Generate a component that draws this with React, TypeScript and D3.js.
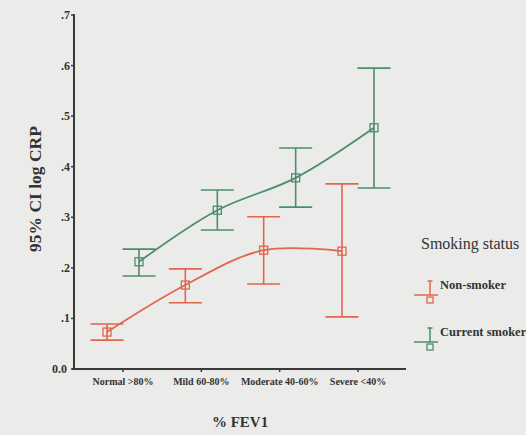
import React from "react";
import * as d3 from "d3";

const categories = ["Normal >80%", "Mild 60-80%", "Moderate 40-60%", "Severe <40%"];
const yTicks = [0, 0.1, 0.2, 0.3, 0.4, 0.5, 0.6, 0.7];
const yTickLabels = ["0.0", ".1", ".2", ".3", ".4", ".5", ".6", ".7"];

const nonSmokerMean = [0.073, 0.166, 0.235, 0.233];
const nonSmokerLow = [0.057, 0.131, 0.168, 0.103];
const nonSmokerHigh = [0.089, 0.198, 0.301, 0.366];

const smokerMean = [0.212, 0.314, 0.378, 0.477];
const smokerLow = [0.184, 0.275, 0.32, 0.358];
const smokerHigh = [0.237, 0.354, 0.437, 0.595];

const seriesNames = ["Non-smoker", "Current smoker"];
const seriesColors = ["#e2654d", "#4d8b72"];

const W = 526;
const H = 435;
const serif = "'Liberation Serif', 'DejaVu Serif', serif";

export default function App() {
  const x = d3.scalePoint<string>().domain(categories).range([123, 358]);
  const y = d3.scaleLinear().domain([0, 0.7]).range([369, 15]);
  const dodge = 16;
  const cap = 16.5;
  const sq = 8;

  const series = [
    { name: seriesNames[0], color: seriesColors[0], mean: nonSmokerMean, lo: nonSmokerLow, hi: nonSmokerHigh, off: -dodge },
    { name: seriesNames[1], color: seriesColors[1], mean: smokerMean, lo: smokerLow, hi: smokerHigh, off: dodge },
  ];

  const line = d3
    .line<[number, number]>()
    .x((d) => d[0])
    .y((d) => d[1])
    .curve(d3.curveCatmullRom.alpha(0.5));

  return (
    <svg
      width={W}
      height={H}
      style={{ position: "absolute", left: 0, top: 0, background: "#ebebea" }}
    >
      <rect x={0} y={0} width={W} height={H} fill="#ebebea" />

      {/* y axis */}
      <line x1={74} x2={74} y1={y(0.7) - 1} y2={y(0) + 1} stroke="#3a3a3a" strokeWidth={2} />
      {yTicks.map((t, i) => (
        <g key={t}>
          <line x1={71} x2={74} y1={y(t)} y2={y(t)} stroke="#3a3a3a" strokeWidth={1.5} />
          <text
            x={i === 0 ? 67 : 70}
            y={y(t) + 4}
            textAnchor="end"
            fontFamily={serif}
            fontSize={12}
            fontWeight="bold"
            fill="#333"
          >
            {yTickLabels[i]}
          </text>
        </g>
      ))}

      {/* x axis */}
      <line x1={72} x2={406} y1={y(0)} y2={y(0)} stroke="#3a3a3a" strokeWidth={2} />
      {categories.map((c) => (
        <g key={c}>
          <line x1={x(c)!} x2={x(c)!} y1={y(0)} y2={y(0) + 3} stroke="#3a3a3a" strokeWidth={1.5} />
          <text
            x={x(c)!}
            y={385}
            textAnchor="middle"
            fontFamily={serif}
            fontSize={10}
            fontWeight="bold"
            fill="#333"
          >
            {c}
          </text>
        </g>
      ))}

      <text x={240} y={427} textAnchor="middle" fontFamily={serif} fontSize={15} fontWeight="bold" fill="#333">
        % FEV1
      </text>
      <text
        transform={`translate(41, 189) rotate(-90)`}
        textAnchor="middle"
        fontFamily={serif}
        fontSize={17.5}
        fontWeight="bold"
        fill="#333"
      >
        95% CI log CRP
      </text>

      {/* series */}
      {series.map((s) => {
        const pts: [number, number][] = s.mean.map((m, i) => [x(categories[i])! + s.off, y(m)]);
        return (
          <g key={s.name}>
            <path d={line(pts) ?? ""} fill="none" stroke={s.color} strokeWidth={1.8} />
            {s.mean.map((m, i) => {
              const cx = x(categories[i])! + s.off;
              return (
                <g key={i} stroke={s.color} strokeWidth={1.6} fill="none">
                  <line x1={cx} x2={cx} y1={y(s.hi[i])} y2={y(s.lo[i])} />
                  <line x1={cx - cap} x2={cx + cap} y1={y(s.hi[i])} y2={y(s.hi[i])} />
                  <line x1={cx - cap} x2={cx + cap} y1={y(s.lo[i])} y2={y(s.lo[i])} />
                  <rect x={cx - sq / 2} y={y(m) - sq / 2} width={sq} height={sq} strokeWidth={1.3} />
                </g>
              );
            })}
          </g>
        );
      })}

      {/* legend */}
      <text x={421} y={249} fontFamily={serif} fontSize={16} fill="#333">
        Smoking status
      </text>
      {series.map((s, i) => {
        const top = 281 + i * 47;
        const cx = 430;
        return (
          <g key={s.name}>
            <g stroke={s.color} strokeWidth={1.5} fill="none">
              <line x1={cx} x2={cx} y1={top} y2={top + 14} />
              <line x1={cx - 2.5} x2={cx + 2.5} y1={top} y2={top} />
              <line x1={414} x2={438} y1={top + 14} y2={top + 14} />
              <rect x={cx - 3} y={top + 16} width={6} height={6} strokeWidth={1.3} />
            </g>
            <text x={440} y={top + 8} fontFamily={serif} fontSize={12.5} fontWeight="bold" fill="#333">
              {s.name}
            </text>
          </g>
        );
      })}
    </svg>
  );
}
